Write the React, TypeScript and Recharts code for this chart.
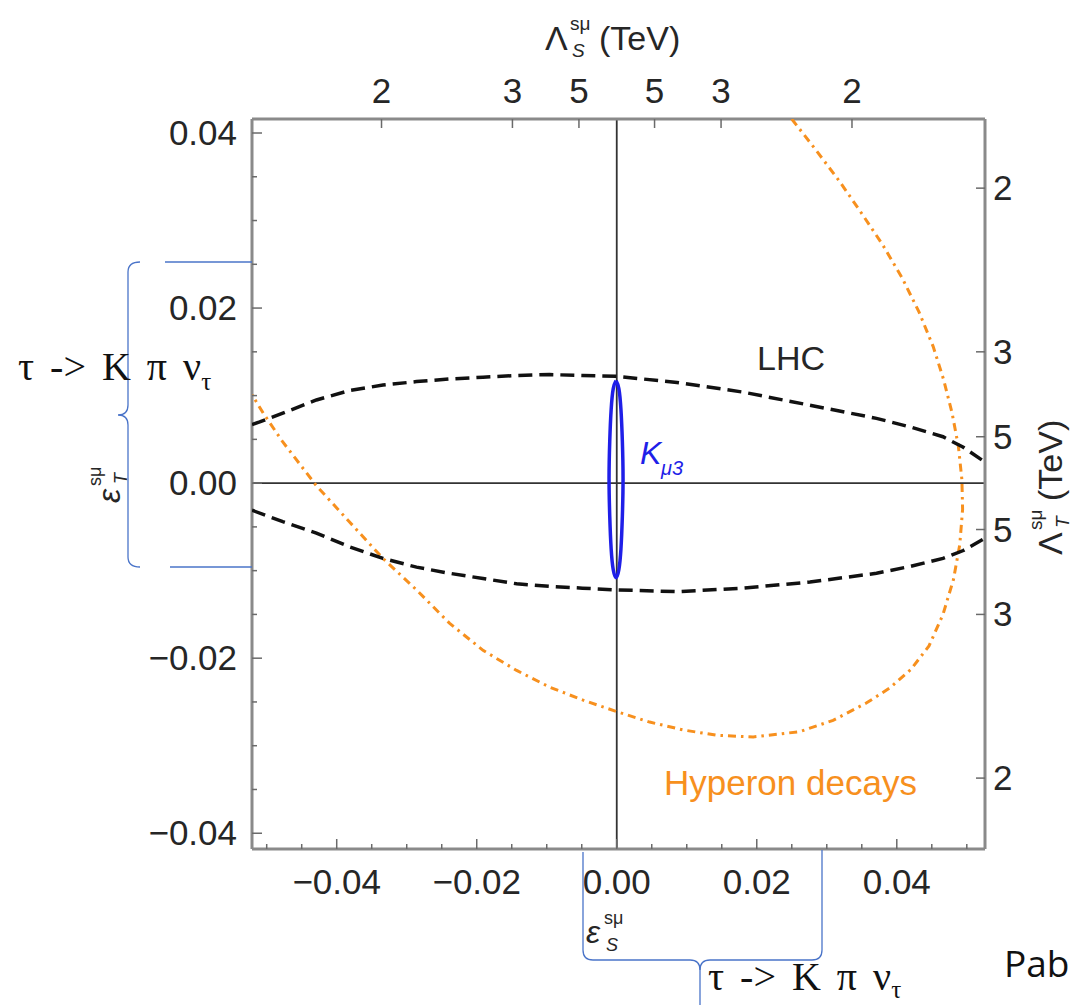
import React from "react";
import { ScatterChart, Scatter, XAxis, YAxis, ReferenceLine } from "recharts";

// (eps_S, eps_T) pairs
const lhcUpper: [number, number][] = [
  [-0.0521, 0.0067], [-0.0510, 0.0070], [-0.0477, 0.0080], [-0.0429, 0.0095],
  [-0.0381, 0.0106], [-0.0334, 0.0112], [-0.0286, 0.0116], [-0.0239, 0.0119],
  [-0.0191, 0.0121], [-0.0143, 0.0123], [-0.0096, 0.0124], [-0.0049, 0.0123],
  [0.0, 0.0122], [0.0086, 0.0115], [0.0180, 0.0104], [0.0276, 0.0089],
  [0.0371, 0.0074], [0.0420, 0.0064], [0.0466, 0.0053], [0.0495, 0.0041],
  [0.0526, 0.0024],
];

const lhcLower: [number, number][] = [
  [-0.0521, -0.0031], [-0.0477, -0.0044], [-0.0429, -0.0057], [-0.0381, -0.0073],
  [-0.0334, -0.0086], [-0.0286, -0.0096], [-0.0239, -0.0103], [-0.0191, -0.0109],
  [-0.0143, -0.0115], [-0.0096, -0.0118], [-0.0049, -0.0120], [0.0, -0.0122],
  [0.0086, -0.0124], [0.0180, -0.0120], [0.0276, -0.0113], [0.0371, -0.0103],
  [0.0420, -0.0095], [0.0466, -0.0086], [0.0495, -0.0077], [0.0526, -0.0063],
];

const kmu3: [number, number][] = [
  [-0.0001, 0.0117], [0.0003, 0.0108], [0.0006, 0.0084], [0.0008, 0.0048],
  [0.0009, 0.0005], [0.0008, -0.0038], [0.0006, -0.0075], [0.0003, -0.0099],
  [-0.0001, -0.0108], [-0.0005, -0.0099], [-0.0008, -0.0075], [-0.0010, -0.0038],
  [-0.0011, 0.0005], [-0.0010, 0.0048], [-0.0008, 0.0084], [-0.0005, 0.0108],
  [-0.0001, 0.0117],
];

const hyperon: [number, number][] = [
  [0.0250, 0.0416], [0.0285, 0.0380], [0.0318, 0.0345], [0.0350, 0.0308],
  [0.0380, 0.0272], [0.0408, 0.0234], [0.0432, 0.0195], [0.0452, 0.0156],
  [0.0467, 0.0118], [0.0479, 0.0080], [0.0488, 0.0042], [0.0493, 0.0004],
  [0.0494, -0.0030], [0.0490, -0.0070], [0.0481, -0.0110], [0.0466, -0.0150],
  [0.0446, -0.0186], [0.0420, -0.0213], [0.0390, -0.0234], [0.0357, -0.0251],
  [0.0309, -0.0271], [0.0261, -0.0284], [0.0195, -0.0290], [0.0142, -0.0288],
  [0.0095, -0.0282], [0.0047, -0.0273], [0.0, -0.0261], [-0.0048, -0.0248],
  [-0.0096, -0.0233], [-0.0143, -0.0214], [-0.0191, -0.0191], [-0.0239, -0.0160],
  [-0.0286, -0.0122], [-0.0334, -0.0086], [-0.0381, -0.0045], [-0.0429, -0.0003],
  [-0.0477, 0.0047], [-0.0505, 0.0080], [-0.0521, 0.0101],
];

const xDomain: [number, number] = [-0.0521, 0.0526];
const yDomain: [number, number] = [-0.0418, 0.0416];

const xTicks = [
  -0.05, -0.045, -0.04, -0.035, -0.03, -0.025, -0.02, -0.015, -0.01, -0.005, 0,
  0.005, 0.01, 0.015, 0.02, 0.025, 0.03, 0.035, 0.04, 0.045, 0.05,
];
const yTicks = [
  -0.04, -0.035, -0.03, -0.025, -0.02, -0.015, -0.01, -0.005, 0,
  0.005, 0.01, 0.015, 0.02, 0.025, 0.03, 0.035, 0.04,
];
const majorTicks = [-0.04, -0.02, 0, 0.02, 0.04];

// Lambda scale ticks (TeV) on the top and right frame
const lambdaSTicks = [-0.0336, -0.0149, -0.0054, 0.0054, 0.0149, 0.0336];
const lambdaSLabels = ["2", "3", "5", "5", "3", "2"];
const lambdaTTicks = [0.0337, 0.0150, 0.0053, -0.0053, -0.0150, -0.0337];
const lambdaTLabels = ["2", "3", "5", "5", "3", "2"];

const SANS = '"Liberation Sans", Arial, sans-serif';
const SERIF = '"Liberation Serif", "Times New Roman", serif';
const FRAME = "#8a8a8a";
const TICK = "#6a6a6a";
const TXT = "#262626";
const ORANGE = "#f7901e";
const BLUE = "#1f1fe8";
const BRACE = "#4a74c9";
const FS = 35;

const toPts = (arr: [number, number][]) => arr.map(([x, y]) => ({ x, y }));
const isMajor = (v: number) => majorTicks.some((m) => Math.abs(m - v) < 1e-9);
const fmt = (v: number) => (Math.abs(v) < 1e-9 ? "0.00" : v.toFixed(2).replace("-", "\u2212"));
const labelAt = (ticks: number[], labels: string[], v: number) => {
  const i = ticks.findIndex((t) => Math.abs(t - v) < 1e-9);
  return i >= 0 ? labels[i] : "";
};

const NoShape = () => <g />;

const BottomTick = (props: any) => {
  const { x, y, payload } = props;
  const major = isMajor(payload.value);
  return (
    <g>
      <line x1={x} x2={x} y1={y} y2={y - (major ? 10 : 5)} stroke={TICK} strokeWidth={1.5} />
      {major && (
        <text x={x} y={y + 45} textAnchor="middle" fontSize={FS} fontFamily={SANS} fill={TXT}>
          {fmt(payload.value)}
        </text>
      )}
    </g>
  );
};

const LeftTick = (props: any) => {
  const { x, y, payload } = props;
  const major = isMajor(payload.value);
  return (
    <g>
      <line x1={x} x2={x + (major ? 10 : 5)} y1={y} y2={y} stroke={TICK} strokeWidth={1.5} />
      {major && (
        <text x={x - 15} y={y + 12} textAnchor="end" fontSize={FS} fontFamily={SANS} fill={TXT}>
          {fmt(payload.value)}
        </text>
      )}
    </g>
  );
};

const TopTick = (props: any) => {
  const { x, y, payload } = props;
  return (
    <g>
      <line x1={x} x2={x} y1={y} y2={y + 9} stroke={TICK} strokeWidth={1.5} />
      <text x={x} y={y - 16} textAnchor="middle" fontSize={FS} fontFamily={SANS} fill={TXT}>
        {labelAt(lambdaSTicks, lambdaSLabels, payload.value)}
      </text>
    </g>
  );
};

const RightTick = (props: any) => {
  const { x, y, payload } = props;
  return (
    <g>
      <line x1={x} x2={x - 9} y1={y} y2={y} stroke={TICK} strokeWidth={1.5} />
      <text x={x + 8} y={y + 12} textAnchor="start" fontSize={FS} fontFamily={SANS} fill={TXT}>
        {labelAt(lambdaTTicks, lambdaTLabels, payload.value)}
      </text>
    </g>
  );
};

const LambdaTitle = ({ sub }: { sub: string }) => (
  <g fontFamily={SANS} fill={TXT}>
    <text x={-72} y={12} fontSize={34}>Λ</text>
    <text x={-47} y={-8} fontSize={19}>sμ</text>
    <text x={-45} y={19} fontSize={19} fontStyle="italic">{sub}</text>
    <text x={-18} y={12} fontSize={34}>(TeV)</text>
  </g>
);

export default function App() {
  return (
    <div style={{ position: "relative", width: 1070, height: 997 }}>
      <ScatterChart width={1070} height={997} margin={{ top: 0, right: 0, bottom: 0, left: 0 }}>
        <XAxis
          xAxisId="b" type="number" dataKey="x" orientation="bottom" height={156}
          domain={xDomain} allowDataOverflow ticks={xTicks} interval={0}
          tickSize={0} tickMargin={0} tickLine={false}
          axisLine={{ stroke: FRAME, strokeWidth: 3 }} tick={BottomTick}
        />
        <XAxis
          xAxisId="t" type="number" dataKey="x" orientation="top" height={111}
          domain={xDomain} allowDataOverflow ticks={lambdaSTicks} interval={0}
          tickSize={0} tickMargin={0} tickLine={false}
          axisLine={{ stroke: FRAME, strokeWidth: 3 }} tick={TopTick}
        />
        <YAxis
          yAxisId="l" type="number" dataKey="y" orientation="left" width={244}
          domain={yDomain} allowDataOverflow ticks={yTicks} interval={0}
          tickSize={0} tickMargin={0} tickLine={false}
          axisLine={{ stroke: FRAME, strokeWidth: 3 }} tick={LeftTick}
        />
        <YAxis
          yAxisId="r" type="number" dataKey="y" orientation="right" width={93}
          domain={yDomain} allowDataOverflow ticks={lambdaTTicks} interval={0}
          tickSize={0} tickMargin={0} tickLine={false}
          axisLine={{ stroke: FRAME, strokeWidth: 3 }} tick={RightTick}
        />
        <ReferenceLine xAxisId="b" yAxisId="l" x={0} stroke="#333" strokeWidth={1.8} />
        <ReferenceLine xAxisId="b" yAxisId="l" y={0} stroke="#333" strokeWidth={1.8} />
        <Scatter
          xAxisId="b" yAxisId="l" data={toPts(hyperon)} fill={ORANGE} shape={NoShape}
          line={{ stroke: ORANGE, strokeWidth: 3, strokeDasharray: "8 5 2.5 5" }}
          lineType="joint" isAnimationActive={false}
        />
        <Scatter
          xAxisId="b" yAxisId="l" data={toPts(lhcUpper)} fill="#111" shape={NoShape}
          line={{ stroke: "#111", strokeWidth: 3.5, strokeDasharray: "14 7" }}
          lineType="joint" isAnimationActive={false}
        />
        <Scatter
          xAxisId="b" yAxisId="l" data={toPts(lhcLower)} fill="#111" shape={NoShape}
          line={{ stroke: "#111", strokeWidth: 3.5, strokeDasharray: "14 7" }}
          lineType="joint" isAnimationActive={false}
        />
        <Scatter
          xAxisId="b" yAxisId="l" data={toPts(kmu3)} fill={BLUE} shape={NoShape}
          line={{ stroke: BLUE, strokeWidth: 3.5 }}
          lineType="joint" lineJointType="natural" isAnimationActive={false}
        />
      </ScatterChart>

      <svg
        width={1078} height={1005}
        style={{ position: "absolute", left: -8, top: -8, pointerEvents: "none" }}
      >
        {/* frame titles */}
        <g transform="translate(617,38)"><LambdaTitle sub="S" /></g>
        <g transform="translate(1050,483) rotate(-90)"><LambdaTitle sub="T" /></g>

        <g transform="translate(110,483) rotate(-90)" fontFamily={SANS} fill={TXT}>
          <text x={-20} y={10} fontSize={32} fontStyle="italic">ε</text>
          <text x={-3} y={-9} fontSize={18}>sμ</text>
          <text x={-1} y={17} fontSize={18} fontStyle="italic">T</text>
        </g>
        <g fontFamily={SANS} fill={TXT}>
          <text x={586} y={943} fontSize={32} fontStyle="italic">ε</text>
          <text x={604} y={924} fontSize={18}>sμ</text>
          <text x={606} y={951} fontSize={18} fontStyle="italic">S</text>
        </g>

        {/* curve annotations */}
        <text x={757} y={370} fontSize={34} fontFamily={SANS} fill={TXT}>LHC</text>
        <g fontFamily={SANS} fill={BLUE}>
          <text x={640} y={464} fontSize={32} fontStyle="italic">K</text>
          <text x={661} y={475} fontSize={20} fontStyle="italic">μ3</text>
        </g>
        <text x={664} y={795} fontSize={35} fontFamily={SANS} fill={ORANGE}>Hyperon decays</text>

        {/* braces */}
        <g stroke={BRACE} strokeWidth={1.3} fill="none">
          <line x1={165} y1={262} x2={252} y2={262} />
          <line x1={170} y1={567} x2={252} y2={567} />
          <path d="M140 262 Q128 262 128 272 L128 405 Q128 415 118 415 Q128 415 128 425 L128 557 Q128 567 140 567" />
          <path d="M583 852 L583 950 Q583 960 593 960 L690 960 Q700 960 700 970 L700 1005" />
          <path d="M700 970 Q700 960 710 960 L812 960 Q822 960 822 950 L822 850" />
        </g>
        <text x={18} y={380} fontSize={40} wordSpacing={6} fontFamily={SERIF} fill="#111">
          τ -&gt; K π ν<tspan fontSize={25} dy={10}>τ</tspan>
        </text>
        <text x={708} y={990} fontSize={40} wordSpacing={6} fontFamily={SERIF} fill="#111">
          τ -&gt; K π ν<tspan fontSize={25} dy={8}>τ</tspan>
        </text>
        <text x={1004} y={977} fontSize={37} fontFamily='"Open Sans", "Noto Sans", sans-serif' fill="#111">
          Pab
        </text>
      </svg>
    </div>
  );
}
